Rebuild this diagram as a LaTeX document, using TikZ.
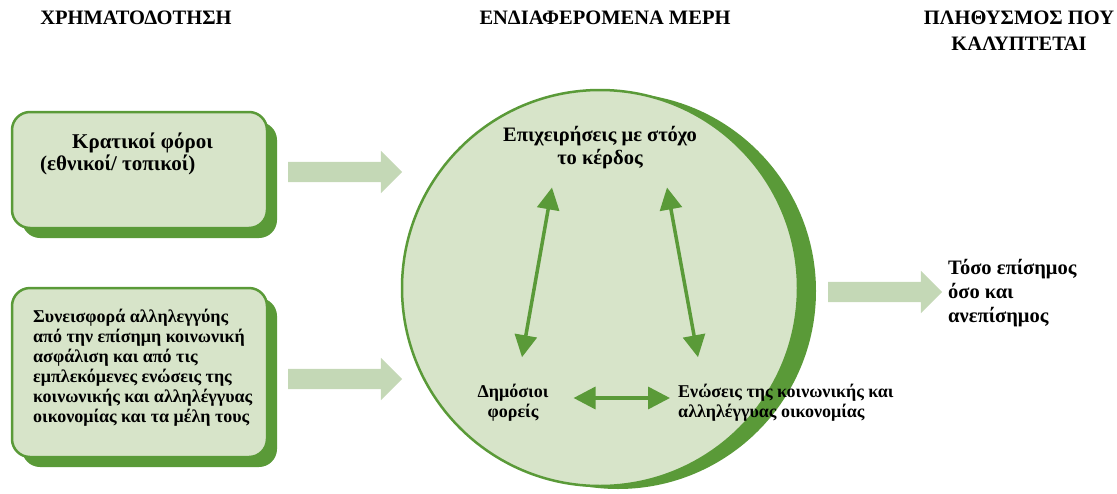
\documentclass[tikz,border=0pt]{standalone}
\usepackage{fontspec}
\setmainfont{Liberation Serif}
\usetikzlibrary{calc,arrows.meta,shapes.arrows,shadows}
\definecolor{leafgreen}{HTML}{5A9A38}
\definecolor{palegreen}{HTML}{D7E4C9}
\definecolor{flowgreen}{HTML}{C4D8B6}
\def\drawlink{\draw[color=leafgreen, line width=3.5pt, {Triangle[width=22pt,length=22pt]}-{Triangle[width=22pt,length=22pt]}]}

\begin{document}
\begin{tikzpicture}[x=1pt,y=-1pt,inner sep=0pt,
  heading/.style={font=\bfseries\fontsize{20.5}{26}\selectfont, align=center},
  boxtext/.style={font=\bfseries\fontsize{18}{20}\selectfont, align=left},
  circtext/.style={font=\bfseries\fontsize{18}{20}\selectfont},
  fundbox/.style={draw=leafgreen, line width=2.5pt, fill=palegreen, rounded corners=18pt, minimum width=255pt,
    drop shadow={shadow xshift=10pt, shadow yshift=-10pt, fill=leafgreen, opacity=1}},
  flow/.style={single arrow, fill=flowgreen, minimum height=114pt, inner ysep=10pt, single arrow head extend=11pt}]
\useasboundingbox (0,0) rectangle (1117,493);
% headings
\node[heading] (fund) at (136,18) {ΧΡΗΜΑΤΟΔΟΤΗΣΗ};
\node[heading] (actors) at (605,18) {ΕΝΔΙΑΦΕΡΟΜΕΝΑ ΜΕΡΗ};
\node[heading] (cover) at (1019,31) {ΠΛΗΘΥΣΜΟΣ ΠΟΥ\\ΚΑΛΥΠΤΕΤΑΙ};
% funding boxes
\node[fundbox, minimum height=116pt] (taxbox) at (139.5,170) {};
\node[boxtext, font=\bfseries\fontsize{21}{22}\selectfont, anchor=north west] (tax) at (40,133)
  {\hspace*{32pt}Κρατικοί φόροι\\(εθνικοί/ τοπικοί)};
\node[fundbox, minimum height=169pt] (solbox) at (139.5,372.5) {};
\node[boxtext, anchor=west] (sol) at (33,368)
  {Συνεισφορά αλληλεγγύης\\από την επίσημη κοινωνική\\ασφάλιση και από τις\\εμπλεκόμενες ενώσεις της\\κοινωνικής και αλληλέγγυας\\οικονομίας και τα μέλη τους};
% stakeholders
\node[circle, draw=leafgreen, line width=2.5pt, fill=palegreen, minimum size=396pt,
  drop shadow={shadow xshift=18pt, shadow yshift=-3pt, fill=leafgreen, opacity=1}] (ring) at (600,288) {};
\node[circtext, font=\bfseries\fontsize{20.5}{23}\selectfont, align=center] (firms) at (600,148) {Επιχειρήσεις με στόχο\\το κέρδος};
\node[circtext, align=center] (public) at (513,403) {Δημόσιοι\\φορείς};
\node[circtext, align=left, anchor=west] (sse) at (678,403) {Ενώσεις της κοινωνικής και\\αλληλέγγυας οικονομίας};
\drawlink ($(firms.south)+(-48,18)$) -- ($(public.north)+(9,-27)$);
\drawlink ($(firms.south)+(67,18)$) -- ($(sse.north west)+(20,-27)$);
\drawlink ($(public.east)+(25,-5)$) -- ($(sse.west)+(-8,-5)$);
% flows
\node[flow] (in1) at (340,172) {};
\node[flow] (in2) at (340,379) {};
\node[flow] (out) at (880,292) {};
\node[boxtext, font=\bfseries\fontsize{20.5}{24}\selectfont, anchor=west] (pop) at (948,293)
  {Τόσο επίσημος\\όσο και\\ανεπίσημος};
\end{tikzpicture}
\end{document}
